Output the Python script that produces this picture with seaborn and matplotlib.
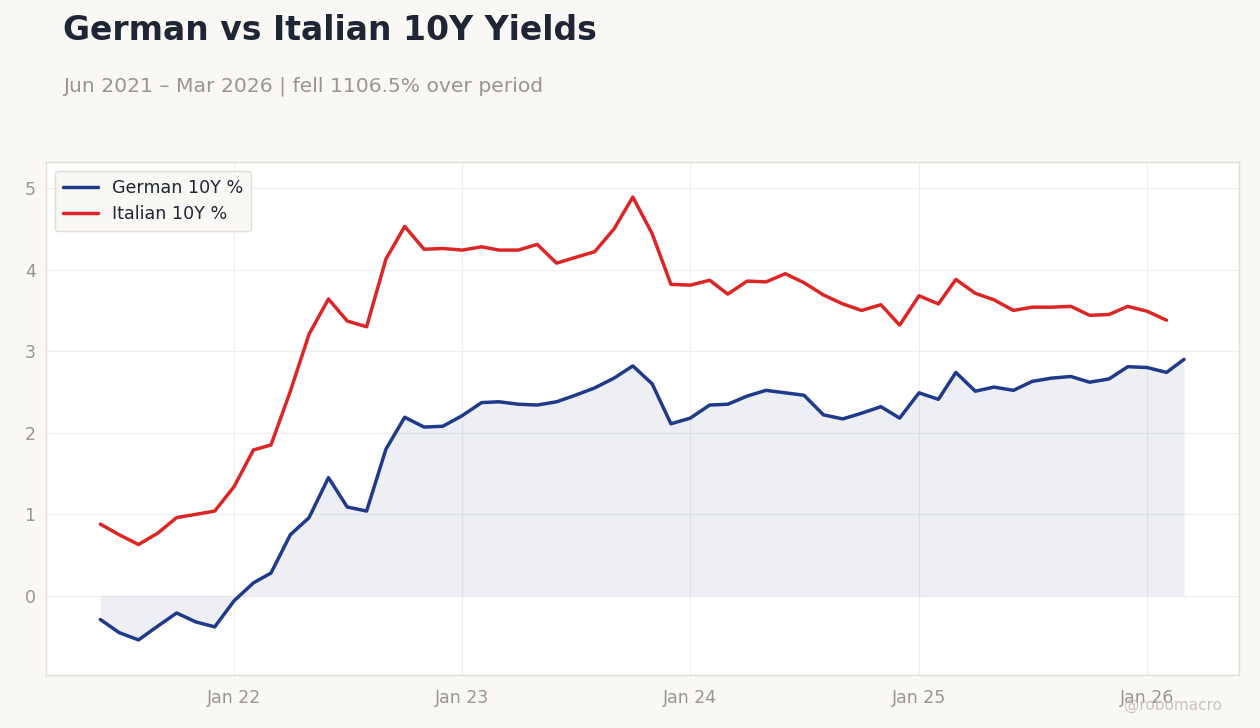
import numpy as np
import pandas as pd
import matplotlib
matplotlib.use("Agg")
import matplotlib.pyplot as plt
import matplotlib.dates as mdates
import seaborn as sns

dates = pd.date_range("2021-06-01", "2026-03-01", freq="MS")

german = [-0.29, -0.45, -0.54, -0.37, -0.21, -0.32, -0.38,
          -0.06, 0.16, 0.28, 0.75, 0.96, 1.45, 1.09, 1.04, 1.80, 2.19, 2.07, 2.08,
          2.21, 2.37, 2.38, 2.35, 2.34, 2.38, 2.46, 2.55, 2.67, 2.82, 2.60, 2.11,
          2.18, 2.34, 2.35, 2.45, 2.52, 2.49, 2.46, 2.22, 2.17, 2.24, 2.32, 2.18,
          2.49, 2.41, 2.74, 2.51, 2.56, 2.52, 2.63, 2.67, 2.69, 2.62, 2.66, 2.81,
          2.80, 2.74, 2.90]

italian = [0.88, 0.75, 0.63, 0.77, 0.96, 1.00, 1.04,
           1.34, 1.79, 1.85, 2.51, 3.21, 3.64, 3.37, 3.30, 4.13, 4.53, 4.25, 4.26,
           4.24, 4.28, 4.24, 4.24, 4.31, 4.08, 4.15, 4.22, 4.50, 4.89, 4.44, 3.82,
           3.81, 3.87, 3.70, 3.86, 3.85, 3.95, 3.84, 3.69, 3.58, 3.50, 3.57, 3.32,
           3.68, 3.58, 3.88, 3.71, 3.63, 3.50, 3.54, 3.54, 3.55, 3.44, 3.45, 3.55,
           3.49, 3.38, np.nan]

series_names = ["German 10Y %", "Italian 10Y %"]

df = pd.DataFrame({"date": dates, series_names[0]: german, series_names[1]: italian})
long = df.melt(id_vars="date", var_name="series", value_name="value").dropna()

BG = "#f9f8f5"
BLUE = "#1f3a8a"
RED = "#dc2626"

sns.set_theme(style="whitegrid")
plt.rcParams["font.family"] = ["DejaVu Sans"]

fig = plt.figure(figsize=(12.6, 7.28), dpi=100, facecolor=BG)
ax = fig.add_axes([46/1260, 1 - 675/728, (1239-46)/1260, (675-162)/728])
ax.set_facecolor("white")

ax.fill_between(df["date"], df[series_names[0]], 0, color=BLUE, alpha=0.08, linewidth=0)
sns.lineplot(data=long, x="date", y="value", hue="series",
             palette={series_names[0]: BLUE, series_names[1]: RED},
             linewidth=2.5, ax=ax)

ax.set_xlim(pd.Timestamp("2021-03-06"), pd.Timestamp("2026-05-28"))
ax.set_ylim(-0.97, 5.32)
ax.set_yticks([0, 1, 2, 3, 4, 5])
ax.xaxis.set_major_locator(mdates.YearLocator(month=1, day=1))
ax.xaxis.set_major_formatter(mdates.DateFormatter("%b %y"))
ax.set_xlabel("")
ax.set_ylabel("")
ax.grid(True, color="#eeeeee", linewidth=0.8)
ax.tick_params(axis="both", colors="#999590", labelsize=12.5, length=4, width=0.8)
ax.tick_params(axis="x", pad=6)
for s in ax.spines.values():
    s.set_color("#e2ddd5")
    s.set_linewidth(1)

leg = ax.legend(loc="upper left", fontsize=12.6, frameon=True, facecolor=BG,
                edgecolor="#e2ddd5", framealpha=1, borderpad=0.45, handlelength=2.0,
                labelspacing=0.5, borderaxespad=0.5)
for t in leg.get_texts():
    t.set_color("#1e2535")

fig.text(63/1260, 1 - 31/728, "German vs Italian 10Y Yields", fontsize=23.8, fontweight="bold",
         color="#1e2535", va="center", ha="left")
fig.text(63/1260, 1 - 86/728, "Jun 2021 \u2013 Mar 2026 | fell 1106.5% over period", fontsize=14.6,
         color="#999590", va="center", ha="left")
fig.text(1222/1260, 1 - 705/728, "@robomacro", fontsize=11, color="#c8c5c0", ha="right", va="center")

fig.savefig("out.png", dpi=100, facecolor=BG)
